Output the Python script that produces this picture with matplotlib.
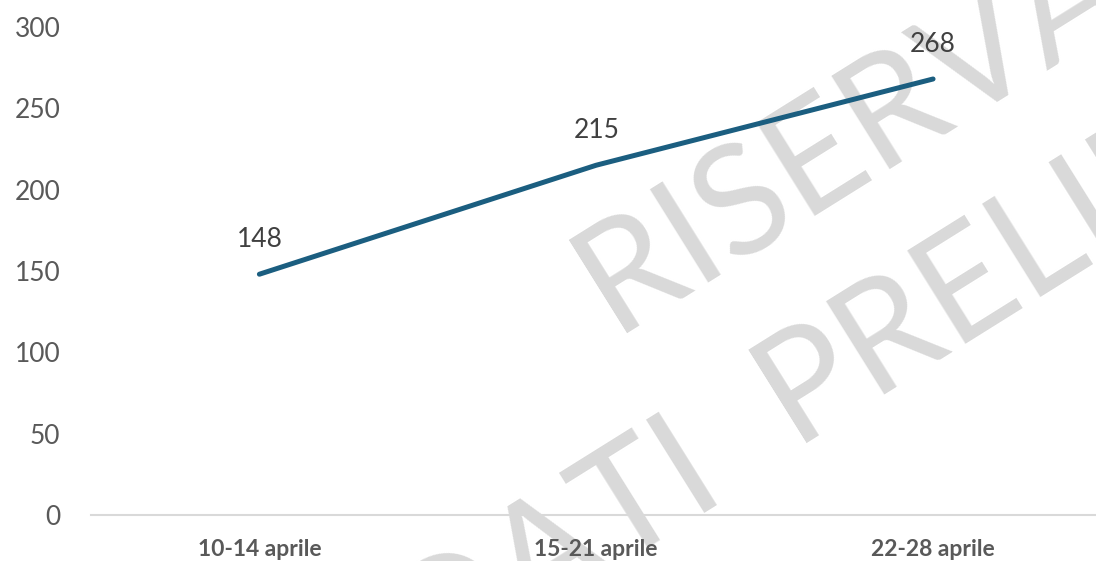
import matplotlib.pyplot as plt

categories = ["10-14 aprile", "15-21 aprile", "22-28 aprile"]
values = [148, 215, 268]
y_ticks = [0, 50, 100, 150, 200, 250, 300]

plt.rcParams["font.family"] = ["Lato", "DejaVu Sans"]

fig = plt.figure(figsize=(10.96, 5.61), dpi=100)
ax = fig.add_axes([0.083, 0.082, 0.922, 0.870])

x = list(range(len(categories)))
ax.plot(x, values, color="#1B5E80", linewidth=3.6, solid_capstyle="round", zorder=3)

# data labels above points
for xi, v in zip(x, values):
    ax.annotate(str(v), (xi, v), xytext=(0, 16), textcoords="offset points",
                ha="center", va="bottom", fontsize=19, color="#404040", zorder=4)

ax.set_xlim(-0.5, 2.5)
ax.set_ylim(0, 300)
ax.set_yticks(y_ticks)
ax.set_xticks(x)
ax.set_xticklabels(categories, fontsize=16.5, fontweight="bold", color="#595959")
ax.tick_params(axis="y", labelsize=19, labelcolor="#595959", length=0, pad=22)
ax.tick_params(axis="x", length=0, pad=17)

for s in ["top", "right", "left"]:
    ax.spines[s].set_visible(False)
ax.spines["bottom"].set_color("#D9D9D9")
ax.spines["bottom"].set_linewidth(1.5)

# watermark
wm = dict(fontsize=110, fontweight="normal", color="#D9D9D9", rotation=32,
          rotation_mode="anchor", va="baseline", transform=fig.transFigure,
          zorder=0, clip_on=False)
ax.text(613 / 1096, 1 - 333 / 561, "RISERVATO", ha="left", **wm)
ax.text(727 / 1096, 1 - 490 / 561, "DATI", ha="right", **wm)
ax.text(793 / 1096, 1 - 443 / 561, "PRELIMINARI", ha="left", **wm)

fig.savefig("out.png", dpi=100)
